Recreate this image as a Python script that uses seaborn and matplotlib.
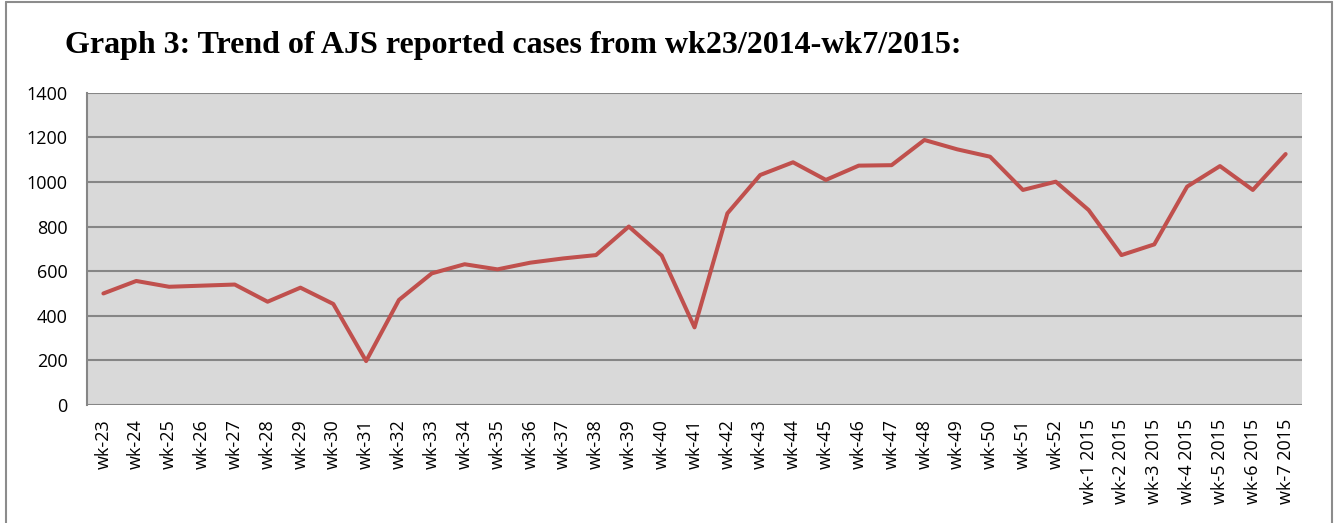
"""
Graph 3: AJS reported cases, wk23/2014 - wk7/2015.
"""

import matplotlib.pyplot as plt
import pandas as pd
import seaborn as sns
from matplotlib.lines import Line2D


# ---------------------------------------------------
# Datos
# ---------------------------------------------------

weeks_2014 = [f"wk-{w}" for w in range(23, 53)]
weeks_2015 = [f"wk-{w} 2015" for w in range(1, 8)]
weeks = weeks_2014 + weeks_2015

cases = [
    500, 556, 530, 535, 540, 463, 526, 453, 197, 471,
    590, 631, 608, 638, 657, 672, 800, 670, 348, 859,
    1031, 1088, 1009, 1073, 1075, 1188, 1146, 1113, 964, 1001,
    874, 672, 720, 979, 1071, 964, 1125,
]

y_ticks = [0, 200, 400, 600, 800, 1000, 1200, 1400]

df = pd.DataFrame({"week": weeks, "cases": cases})


# ---------------------------------------------------
# Figura
# ---------------------------------------------------

sns.set_style("white")
plt.rcParams["font.family"] = ["Open Sans", "DejaVu Sans"]
plt.rcParams["text.color"] = "black"
plt.rcParams["xtick.color"] = "black"
plt.rcParams["ytick.color"] = "black"

fig = plt.figure(figsize=(13.36, 5.23), dpi=100)
ax = fig.add_axes([0.0651, 0.2256, 0.9095, 0.5972])

ax.set_facecolor("#d9d9d9")

sns.lineplot(
    data=df,
    x="week",
    y="cases",
    color="#c0504d",
    linewidth=2.9,
    sort=False,
    ax=ax
)

ax.set_xlim(-0.5, len(weeks) - 0.5)
ax.set_ylim(0, 1400)
ax.set_yticks(y_ticks)
ax.set_yticklabels([str(v) for v in y_ticks])

ax.yaxis.grid(True, color="#868686", linewidth=1.5)
ax.set_axisbelow(True)

for side in ["top", "right", "bottom"]:
    ax.spines[side].set_visible(False)
ax.spines["left"].set_color("#868686")
ax.spines["left"].set_linewidth(1.5)

ax.tick_params(axis="x", rotation=90, length=0, pad=10, labelsize=13)
ax.tick_params(axis="y", length=0, pad=14, labelsize=13)
for lbl in ax.get_xticklabels():
    lbl.set_verticalalignment("top")

ax.set_xlabel("")
ax.set_ylabel("")

fig.text(
    0.049, 0.913,
    "Graph 3: Trend of AJS reported cases from wk23/2014-wk7/2015:",
    fontsize=23,
    fontweight="bold",
    family="Liberation Serif",
    va="center"
)

# Marco gris de la figura (sin borde inferior)
frame = dict(color="#8c8c8c", linewidth=1.5, transform=fig.transFigure)
fig.add_artist(Line2D([0.0045, 0.0045], [0, 0.996], **frame))
fig.add_artist(Line2D([0.0045, 0.997], [0.996, 0.996], **frame))
fig.add_artist(Line2D([0.997, 0.997], [0, 0.996], **frame))

plt.savefig("out.png", dpi=100)
